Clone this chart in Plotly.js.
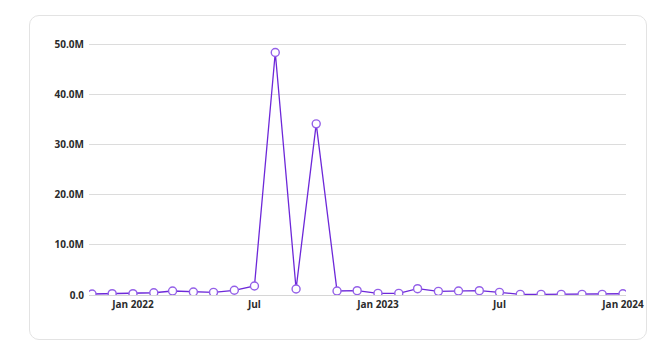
<!DOCTYPE html>
<html>
<head>
<meta charset="utf-8">
<script src="https://cdn.plot.ly/plotly-3.0.1.min.js"></script>
<style>
  html, body { margin: 0; padding: 0; background: #ffffff; }
  #wrap { position: relative; width: 671px; height: 352px; overflow: hidden; }
  #card { position: absolute; left: 29px; top: 15px; width: 618px; height: 325px;
          border: 1px solid #e3e3e3; border-radius: 10px; box-sizing: border-box; background: #fff; }
  #chart { position: absolute; left: 0; top: 0; width: 671px; height: 352px; }
</style>
</head>
<body>
<div id="wrap">
  <div id="card"></div>
  <div id="chart"></div>
</div>
<script>
// Monthly values (millions)
const months = [
  "2021-11-01","2021-12-01","2022-01-01","2022-02-01","2022-03-01","2022-04-01",
  "2022-05-01","2022-06-01","2022-07-01","2022-08-01","2022-09-01","2022-10-01",
  "2022-11-01","2022-12-01","2023-01-01","2023-02-01","2023-03-01","2023-04-01",
  "2023-05-01","2023-06-01","2023-07-01","2023-08-01","2023-09-01","2023-10-01",
  "2023-11-01","2023-12-01","2024-01-01"
];
const valuesM = [
  0.2, 0.26, 0.26, 0.45, 0.8, 0.6,
  0.53, 0.94, 1.8, 48.3, 1.2, 34.1,
  0.8, 0.86, 0.33, 0.33, 1.26, 0.73,
  0.8, 0.86, 0.53, 0.13, 0.13, 0.13,
  0.13, 0.13, 0.25
];
const yTickVals = [0, 10, 20, 30, 40, 50];
const yTickText = ["0.0", "10.0M", "20.0M", "30.0M", "40.0M", "50.0M"];
const xTickVals = ["2022-01-01", "2022-07-01", "2023-01-01", "2023-07-01", "2024-01-01"];
const xTickText = ["Jan 2022", "Jul", "Jan 2023", "Jul", "Jan 2024"];

const trace = {
  type: "scatter",
  mode: "lines+markers",
  x: months,
  y: valuesM,
  line: { color: "#6d28d9", width: 1.3 },
  marker: { size: 8, color: "#ffffff", line: { color: "#9460e8", width: 1.4 } },
  cliponaxis: true,
  hoverinfo: "x+y"
};

const tickFont = { family: "Open Sans, DejaVu Sans, sans-serif", size: 10, color: "#2b2b2b", weight: "bold" };

const layout = {
  width: 671,
  height: 352,
  margin: { l: 89, r: 45, t: 39, b: 57, pad: 0 },
  paper_bgcolor: "rgba(0,0,0,0)",
  plot_bgcolor: "rgba(0,0,0,0)",
  showlegend: false,
  xaxis: {
    type: "date",
    range: ["2021-10-27 12:00", "2024-01-05 12:00"],
    tickmode: "array",
    tickvals: xTickVals,
    ticktext: xTickText,
    showgrid: false,
    zeroline: false,
    showline: true,
    linecolor: "#d6d6d6",
    linewidth: 1,
    ticks: "",
    tickfont: tickFont,
    ticklabelstandoff: 0
  },
  yaxis: {
    range: [0, 51],
    tickmode: "array",
    tickvals: yTickVals,
    ticktext: yTickText,
    showgrid: true,
    gridcolor: "#dcdcdc",
    gridwidth: 1,
    zeroline: false,
    showline: false,
    ticks: "",
    tickfont: tickFont,
    ticklabelstandoff: 4
  }
};

Plotly.newPlot("chart", [trace], layout, { displayModeBar: false, staticPlot: true });
</script>
</body>
</html>
